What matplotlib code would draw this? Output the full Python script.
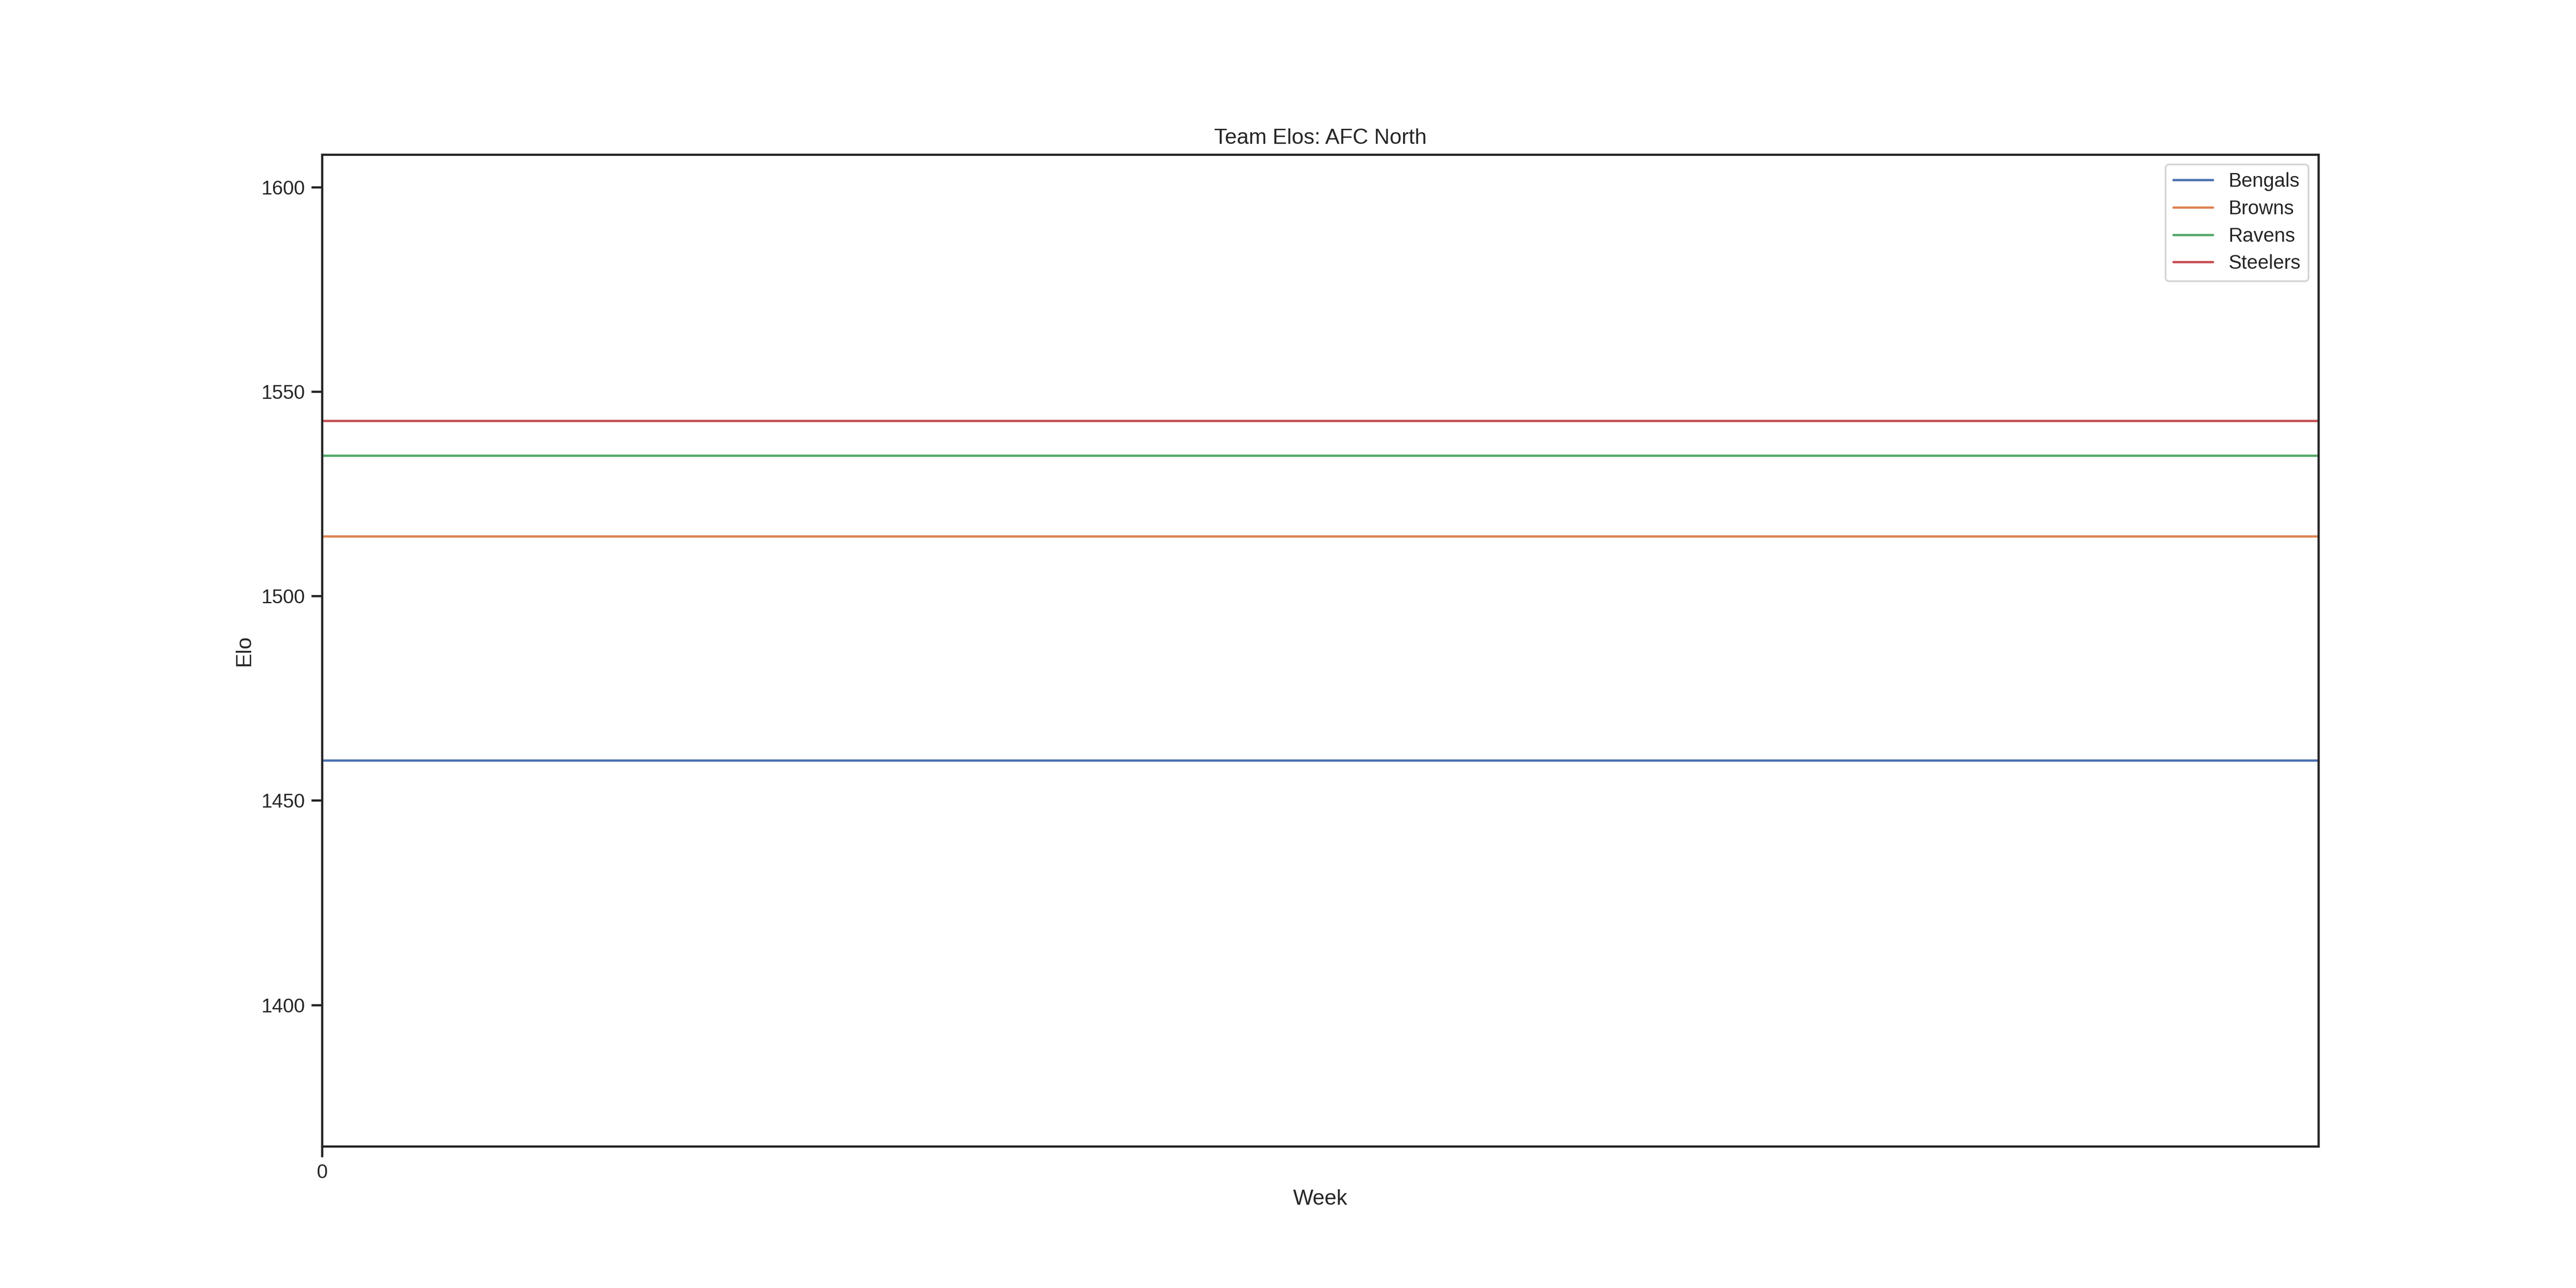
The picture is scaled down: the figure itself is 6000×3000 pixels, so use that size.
import matplotlib
matplotlib.use("Agg")
import matplotlib.pyplot as plt
import seaborn as sns

sns.set_theme(style="ticks", palette="deep")
plt.rcParams["font.family"] = ["Liberation Sans", "DejaVu Sans"]

# Elo per team, constant over the weeks shown
weeks = [0, 1]
teams = ["Bengals", "Browns", "Ravens", "Steelers"]
elos = {
    "Bengals": [1459.8, 1459.8],
    "Browns": [1514.6, 1514.6],
    "Ravens": [1534.4, 1534.4],
    "Steelers": [1542.9, 1542.9],
}

fig, ax = plt.subplots(figsize=(20, 10), dpi=300)
for t in teams:
    ax.plot(weeks, elos[t], label=t, lw=1.3)

ax.set_xlim(weeks[0], weeks[-1])
ax.set_xticks([0])
ax.set_ylim(1365.4, 1608.0)
ax.set_yticks([1400, 1450, 1500, 1550, 1600])
ax.set_xlabel("Week")
ax.set_ylabel("Elo")
ax.set_title("Team Elos: AFC North")
ax.legend(loc="upper right", labelspacing=0.43)

fig.savefig("out.png")
